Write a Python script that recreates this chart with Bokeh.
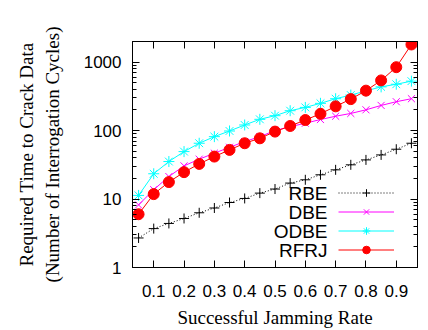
from bokeh.plotting import figure
from bokeh.models import (FixedTicker, LogAxis, LinearAxis, Legend, LegendItem, Label)
from bokeh.embed import file_html
from bokeh.resources import INLINE

rate = [0.05, 0.10, 0.15, 0.20, 0.25, 0.30, 0.35, 0.40, 0.45, 0.50,
        0.55, 0.60, 0.65, 0.70, 0.75, 0.80, 0.85, 0.90, 0.95]
rbe = [2.7, 3.7, 4.4, 5.2, 6.3, 7.4, 8.9, 10.2, 12.2, 14.0,
       17.1, 19.1, 22.6, 26.7, 31.6, 37.3, 44.1, 53.4, 65.3]
dbe = [8.2, 13.7, 21.3, 30.5, 38.2, 46.7, 57, 69, 81.5, 100,
       114, 128, 145, 162, 178, 201, 233, 264, 292]
odbe = [11.3, 23.4, 35.3, 49.3, 65.3, 81.5, 98.6, 120.7, 146, 165,
        195, 218, 250, 292, 330, 380, 435, 475, 527]
rfrj = [6.0, 11.8, 17.7, 24.7, 32.6, 41.7, 52.2, 65.3, 77.1, 96.6,
        116.7, 142.6, 176, 226, 288, 383, 540, 843, 1810]

series_names = ["RBE", "DBE", "ODBE", "RFRJ"]
x_ticks = [0.1, 0.2, 0.3, 0.4, 0.5, 0.6, 0.7, 0.8, 0.9]
x_tick_labels = ["0.1", "0.2", "0.3", "0.4", "0.5", "0.6", "0.7", "0.8", "0.9"]
y_ticks = [1, 10, 100, 1000]
y_tick_labels = ["1", "10", "100", "1000"]
y_minor = [m * d for d in [1, 10, 100] for m in range(2, 10)] + [2000]

SANS = "Liberation Sans"
SERIF = "Liberation Serif"

p = figure(width=428, height=330, y_axis_type="log",
           x_range=(0.03, 0.97), y_range=(1, 2000),
           output_backend="svg", toolbar_location=None,
           min_border_left=132, min_border_right=11,
           min_border_top=41, min_border_bottom=62)
p.grid.visible = False
p.outline_line_color = "black"
p.outline_line_width = 1
p.background_fill_color = "white"

# main axes
xa = p.xaxis[0]
xa.ticker = FixedTicker(ticks=x_ticks, minor_ticks=[])
xa.major_label_overrides = {t: l for t, l in zip(x_ticks, x_tick_labels)}
ya = p.yaxis[0]
ya.ticker = FixedTicker(ticks=y_ticks, minor_ticks=y_minor)
ya.major_label_overrides = {t: l for t, l in zip(y_ticks, y_tick_labels)}

for ax in (xa, ya):
    ax.major_tick_in = 7
    ax.major_tick_out = 0
    ax.minor_tick_in = 4
    ax.minor_tick_out = 0
    ax.axis_line_color = "black"
    ax.major_label_text_font = SANS
    ax.major_label_text_font_size = "17px"
    ax.major_label_text_color = "black"
    ax.axis_label_text_font = SERIF
    ax.axis_label_text_font_size = "19px"
    ax.axis_label_text_font_style = "normal"
    ax.axis_label_text_color = "black"

xa.major_label_standoff = 17
xa.axis_label = "Successful Jamming Rate"
xa.axis_label_standoff = 7
ya.major_label_standoff = 11
ya.axis_label = "(Number of Interrogation Cycles)"
ya.axis_label_standoff = 18

# outer left axis carrying first line of the y label
ya2 = LogAxis(ticker=FixedTicker(ticks=[]), axis_line_color=None,
              major_tick_line_color=None, minor_tick_line_color=None,
              major_label_text_font_size="0px", major_label_standoff=0,
              axis_label="Required Time to Crack Data",
              axis_label_text_font=SERIF, axis_label_text_font_size="19px",
              axis_label_text_font_style="normal", axis_label_text_color="black",
              axis_label_standoff=2)
p.add_layout(ya2, "left")

# mirrored axes
top = LinearAxis(ticker=FixedTicker(ticks=x_ticks, minor_ticks=[]),
                 major_tick_in=7, major_tick_out=0, minor_tick_in=0, minor_tick_out=0,
                 major_label_text_font_size="0px", major_label_text_color=None,
                 major_label_standoff=0, axis_line_color="black")
p.add_layout(top, "above")
right = LogAxis(ticker=FixedTicker(ticks=y_ticks, minor_ticks=y_minor),
                major_tick_in=7, major_tick_out=0, minor_tick_in=4, minor_tick_out=0,
                major_label_text_font_size="0px", major_label_text_color=None,
                major_label_standoff=0, axis_line_color="black")
p.add_layout(right, "right")

# series
l1 = p.line(rate, rbe, line_color="black", line_width=1, line_dash="1 2")
s1 = p.scatter(rate, rbe, marker="cross", size=10, line_color="black", line_width=1)
l2 = p.line(rate, dbe, line_color="#ff00ff", line_width=1)
s2 = p.scatter(rate, dbe, marker="x", size=10, line_color="#ff00ff", line_width=1)
l3 = p.line(rate, odbe, line_color="#00ffff", line_width=1)
s3 = p.scatter(rate, odbe, marker="asterisk", size=11, line_color="#00ffff", line_width=1)
l4 = p.line(rate, rfrj, line_color="#ff0000", line_width=1)
s4 = p.scatter(rate, rfrj, marker="circle", size=11, fill_color="#ff0000",
               line_color="#ff0000")

items = [LegendItem(label=" ", renderers=[l, s])
         for l, s in [(l1, s1), (l2, s2), (l3, s3), (l4, s4)]]
leg = Legend(items=items, location=(206, 8), glyph_width=56, glyph_height=19,
             label_width=0, label_height=19, label_standoff=0, spacing=0,
             padding=0, margin=0, label_text_font_size="1px",
             border_line_color=None, background_fill_alpha=0)
p.add_layout(leg, "center")

for i, name in enumerate(series_names):
    p.add_layout(Label(x=195, y=74 - 19 * i, x_units="screen", y_units="screen",
                       text=name, text_align="right", text_baseline="middle",
                       text_font=SANS, text_font_size="19px", text_color="black"))

open("out.html", "w").write(file_html(p, INLINE))
